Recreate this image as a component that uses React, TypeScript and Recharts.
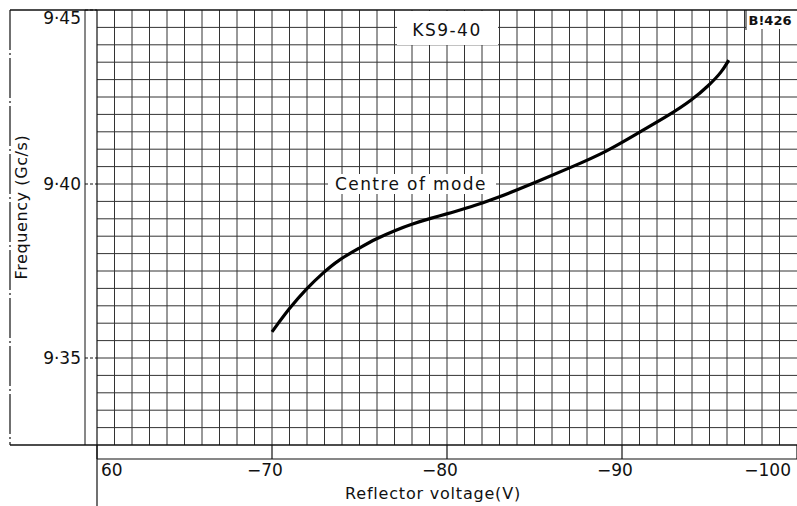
import React from "react";
import { LineChart, Line, XAxis, YAxis, ReferenceLine, Customized } from "recharts";

// reflector voltage (V) and frequency (Gc/s)
const voltage = [-70, -71, -72, -72.9, -73.8, -75, -75.9, -77.1, -78, -79.1, -80, -81.1, -82, -83, -84, -85.1, -87, -89.1, -91, -92.7, -94, -95, -95.7, -96.1];
const frequency = [9.3575, 9.3644, 9.3701, 9.3744, 9.3782, 9.3816, 9.3842, 9.3868, 9.3885, 9.3902, 9.3914, 9.3931, 9.3945, 9.3963, 9.3983, 9.4006, 9.4046, 9.4092, 9.4149, 9.4198, 9.4241, 9.4285, 9.4322, 9.4356];

const xTicks = [-60, -70, -80, -90, -100];
const yTicks = [9.35, 9.4, 9.45];
const xTickLabels = ["60", "−70", "−80", "−90", "−100"];
const yTickLabels = ["9·35", "9·40", "9·45"];

const data = voltage.map((v, i) => ({ v, f: frequency[i] }));

// 1 V and 0.005 Gc/s graph paper
const vGrid: number[] = [];
for (let v = -61; v >= -99; v--) vGrid.push(v);
const fGrid: number[] = [];
for (let k = 1; k < 25; k++) fGrid.push(Math.round((9.325 + k * 0.005) * 1000) / 1000);

const W = 797;
const H = 506;
const LEFT = 97;
const TOP = 10;
const BOTTOM = 445;
const FONT = "DejaVu Sans";
const INK = "#111";

const XTick = (props: any) => {
    const { x, payload } = props;
    const i = xTicks.indexOf(payload.value);
    let anchor: "start" | "middle" | "end" = "middle";
    let tx = x - 7;
    if (i === 0) { anchor = "start"; tx = x + 4; }
    if (i === xTicks.length - 1) { anchor = "end"; tx = x - 6; }
    return (
        <g>
            <line x1={x} x2={x} y1={BOTTOM} y2={BOTTOM + 14} stroke={INK} strokeWidth={1.2} />
            <text x={tx} y={BOTTOM + 31} textAnchor={anchor} fontSize={17} fill={INK} fontFamily={FONT}>
                {xTickLabels[i]}
            </text>
        </g>
    );
};

const YTick = (props: any) => {
    const { y, payload } = props;
    const i = yTicks.indexOf(payload.value);
    const ty = i === yTicks.length - 1 ? y + 8 : y;
    return (
        <g>
            <line x1={85} x2={LEFT} y1={y} y2={y} stroke={INK} strokeWidth={1} strokeDasharray="3 2" />
            <text x={81} y={ty} dy="0.36em" textAnchor="end" fontSize={17} fill={INK} fontFamily={FONT}>
                {yTickLabels[i]}
            </text>
        </g>
    );
};

const Frame = () => (
    <g>
        <line x1={10} x2={W} y1={TOP} y2={TOP} stroke={INK} strokeWidth={1.5} />
        <line x1={10} x2={W} y1={BOTTOM} y2={BOTTOM} stroke={INK} strokeWidth={1.5} />
        <line x1={10} x2={10} y1={TOP} y2={BOTTOM} stroke={INK} strokeWidth={1.2} strokeDasharray="40 3 2 3" />
        <line x1={85} x2={85} y1={TOP} y2={BOTTOM} stroke={INK} strokeWidth={1} />
        <line x1={LEFT} x2={LEFT} y1={TOP} y2={H} stroke={INK} strokeWidth={1.2} />
        <line x1={LEFT} x2={W} y1={BOTTOM + 14} y2={BOTTOM + 14} stroke={INK} strokeWidth={1.2} />
        <text
            transform="translate(27,207) rotate(-90)"
            textAnchor="middle"
            fontSize={16}
            letterSpacing={0.6}
            fill={INK}
            fontFamily={FONT}
        >
            Frequency (Gc/s)
        </text>
        <text x={433} y={499} textAnchor="middle" fontSize={16} letterSpacing={0.8} fill={INK} fontFamily={FONT}>
            Reflector voltage(V)
        </text>
        <rect x={397} y={TOP + 1} width={101} height={34} fill="#fff" />
        <text x={447} y={36} textAnchor="middle" fontSize={17} letterSpacing={1.5} fill={INK} fontFamily={FONT}>
            KS9-40
        </text>
        <rect x={328} y={174} width={168} height={20} fill="#fff" />
        <text x={411} y={190} textAnchor="middle" fontSize={17} letterSpacing={1.4} fill={INK} fontFamily={FONT}>
            Centre of mode
        </text>
        <rect x={746} y={TOP + 1} width={51} height={18} fill="#fff" />
        <line x1={746} x2={746} y1={TOP} y2={30} stroke={INK} strokeWidth={1} />
        <text x={770} y={25} textAnchor="middle" fontSize={13} fontWeight="bold" fill={INK} fontFamily={FONT}>
            B!426
        </text>
    </g>
);

export default function App() {
    return (
        <div style={{ position: "absolute", left: 0, top: 0, width: W, height: H, background: "#fff" }}>
            <LineChart width={W} height={H} data={data} margin={{ top: TOP, right: 0, bottom: 0, left: 10 }}>
                <XAxis
                    dataKey="v"
                    type="number"
                    domain={[-100, -60]}
                    reversed
                    ticks={xTicks}
                    tick={<XTick />}
                    tickLine={false}
                    axisLine={false}
                    height={H - BOTTOM}
                    interval={0}
                    allowDataOverflow
                />
                <YAxis
                    type="number"
                    domain={[9.325, 9.45]}
                    ticks={yTicks}
                    tick={<YTick />}
                    tickLine={false}
                    axisLine={false}
                    width={LEFT - 10}
                    interval={0}
                    allowDataOverflow
                />
                {vGrid.map((v) => (
                    <ReferenceLine key={"v" + v} x={v} stroke="#333" strokeWidth={1} zIndex={-100} />
                ))}
                {fGrid.map((f) => (
                    <ReferenceLine key={"f" + f} y={f} stroke="#333" strokeWidth={1} zIndex={-100} />
                ))}
                <Customized component={<Frame />} />
                <Line
                    type="basis"
                    dataKey="f"
                    stroke="#000"
                    strokeWidth={3.2}
                    dot={false}
                    activeDot={false}
                    isAnimationActive={false}
                />
            </LineChart>
        </div>
    );
}
